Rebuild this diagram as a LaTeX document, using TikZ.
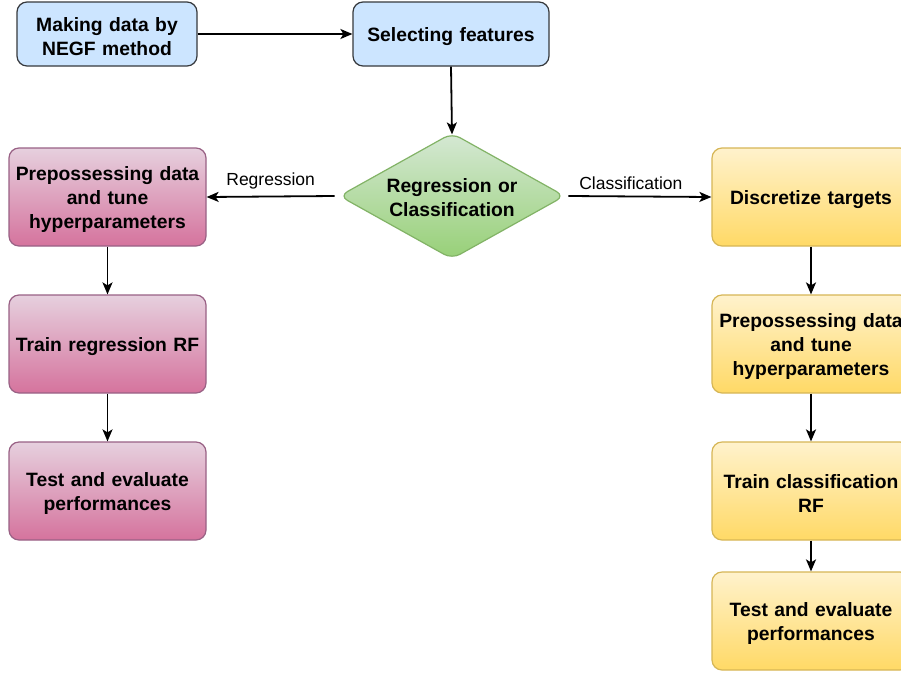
\documentclass[tikz,border=0pt]{standalone}
\usepackage{fontspec}
\setmainfont{Liberation Sans}
\usetikzlibrary{shapes.geometric,arrows.meta}
\definecolor{bluefill}{HTML}{CCE5FF}
\definecolor{bluedraw}{HTML}{36393D}
\definecolor{pinktop}{HTML}{E6D0DE}
\definecolor{pinkbot}{HTML}{D5739D}
\definecolor{pinkdraw}{HTML}{996185}
\definecolor{yeltop}{HTML}{FFF2CC}
\definecolor{yelbot}{HTML}{FFD966}
\definecolor{yeldraw}{HTML}{D6B656}
\definecolor{grntop}{HTML}{D5E8D4}
\definecolor{grnbot}{HTML}{97D077}
\definecolor{grndraw}{HTML}{82B366}
\begin{document}
\begin{tikzpicture}[x=1pt,y=-1pt,
  boxbase/.style={rectangle, rounded corners=10pt, line width=1.2pt, align=center,
    inner sep=0pt, font=\fontsize{19.3}{24}\selectfont\bfseries,
    execute at begin node={\rule{0pt}{19pt}}},
  bluebox/.style={boxbase, draw=bluedraw, fill=bluefill, minimum height=64pt},
  pinkbox/.style={boxbase, draw=pinkdraw, top color=pinktop, bottom color=pinkbot,
    minimum width=197pt, minimum height=98pt, text width=190pt},
  yelbox/.style={boxbase, draw=yeldraw, top color=yeltop, bottom color=yelbot,
    minimum width=198pt, minimum height=98pt, text width=190pt},
  decision/.style={diamond, aspect=1.79, rounded corners=9pt, draw=grndraw, line width=1.2pt,
    top color=grntop, bottom color=grnbot, minimum width=222pt, minimum height=124pt,
    inner sep=0pt, align=center, text width=150pt, font=\fontsize{19.3}{24}\selectfont\bfseries,
    execute at begin node={\rule{0pt}{18pt}}},
  conn/.style={line width=1.8pt, -{Stealth[length=12pt,width=10pt,inset=3pt]}},
  lbl/.style={font=\fontsize{17.5}{20}\selectfont, inner sep=0pt}
]
\useasboundingbox (0,0) rectangle (901,675);
\fill[white] (0,0) rectangle (901,675);

\node[bluebox, minimum width=180pt, text width=170pt] (make) at (107,34) {Making data by\\NEGF method};
\node[bluebox, minimum width=196pt, text width=186pt] (sel) at (451,34) {Selecting features};
\node[decision] (dec) at (452,196) {Regression or\\Classification};

\node[pinkbox] (l1) at (107.5,197) {Prepossessing data\\and tune\\hyperparameters};
\node[pinkbox] (l2) at (107.5,344) {Train regression RF};
\node[pinkbox] (l3) at (107.5,491) {Test and evaluate\\performances};

\node[yelbox] (r1) at (811,197) {Discretize targets};
\node[yelbox] (r2) at (811,344) {Prepossessing data\\and tune\\hyperparameters};
\node[yelbox] (r3) at (811,491) {Train classification\\RF};
\node[yelbox] (r4) at (811,621) {Test and evaluate\\performances};

\draw[conn] (make.east) -- (sel.west);
\draw[conn] (sel.south) -- ([yshift=-2pt]dec.north);
\draw[conn] ([xshift=-4pt]dec.west) -- node[lbl, above=6pt] (lreg) {Regression} (l1.east);
\draw[conn] ([xshift=3pt]dec.east) -- node[lbl, above=6pt, xshift=-9pt] (lcls) {Classification} (r1.west);
\draw[conn] (l1.south) -- (l2.north);
\draw[conn] (l2.south) -- (l3.north);
\draw[conn] (r1.south) -- (r2.north);
\draw[conn] (r2.south) -- (r3.north);
\draw[conn] (r3.south) -- (r4.north);
\end{tikzpicture}
\end{document}
